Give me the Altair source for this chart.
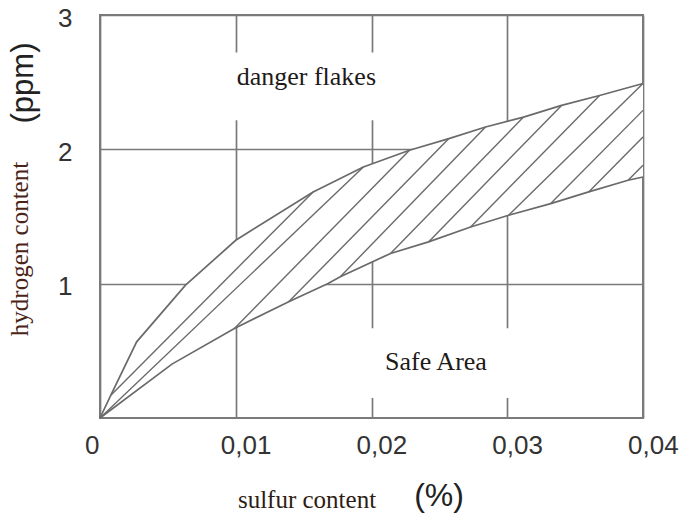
import altair as alt
import pandas as pd

# ---- data ----
x_ticks = [0, 0.01, 0.02, 0.03, 0.04]
x_labels = ["0", "0,01", "0,02", "0,03", "0,04"]
y_ticks = [1, 2, 3]

# upper boundary of the hatched band
upper_x = [0, 0.0008, 0.0027, 0.0063, 0.0100, 0.0157, 0.0194, 0.0228, 0.0257, 0.0284, 0.0312, 0.0340, 0.0368, 0.0400]
upper_y = [0, 0.17, 0.567, 0.989, 1.323, 1.683, 1.868, 1.993, 2.080, 2.166, 2.240, 2.327, 2.401, 2.49]
# lower boundary of the hatched band
lower_x = [0, 0.0053, 0.0099, 0.0139, 0.0168, 0.0177, 0.0214, 0.0242, 0.0273, 0.0301, 0.0332, 0.0360, 0.0389, 0.0400]
lower_y = [0, 0.401, 0.667, 0.865, 1.001, 1.051, 1.225, 1.311, 1.422, 1.509, 1.596, 1.683, 1.770, 1.794]

# hatch strokes (start on lower side, end on upper side)
hatch_x1 = [0.0008, 0, 0.0099, 0.0139, 0.0177, 0.0214, 0.0242, 0.0273, 0.0301, 0.0332, 0.0360, 0.0389]
hatch_y1 = [0.17, 0, 0.667, 0.865, 1.051, 1.225, 1.311, 1.422, 1.509, 1.596, 1.683, 1.770]
hatch_x2 = [0.0157, 0.0194, 0.0228, 0.0257, 0.0284, 0.0312, 0.0340, 0.0368, 0.0400, 0.0400, 0.0400, 0.0400]
hatch_y2 = [1.683, 1.868, 1.993, 2.080, 2.166, 2.240, 2.327, 2.401, 2.49, 2.290, 2.091, 1.881]

# in-plot annotations
ann_text = ["danger flakes", "Safe Area"]
ann_x = [0.0152, 0.02475]
ann_y = [2.476, 0.357]
box_x1 = [0.0095, 0.0190]
box_x2 = [0.0215, 0.0310]
box_y1 = [2.216, 0.149]
box_y2 = [2.721, 0.669]

GRAY = "#7a7a7a"
LINE = "#6a6a6a"

# ---- tables ----
n_up = len(upper_x)
band = pd.DataFrame({
    "x": upper_x + lower_x[::-1],
    "y": upper_y + lower_y[::-1],
    "i": list(range(n_up + len(lower_x))),
})
curves = pd.DataFrame({
    "x": upper_x + lower_x,
    "y": upper_y + lower_y,
    "curve": ["upper"] * n_up + ["lower"] * len(lower_x),
})
hatch = pd.DataFrame({"x": hatch_x1, "y": hatch_y1, "x2": hatch_x2, "y2": hatch_y2})
boxes = pd.DataFrame({"x": box_x1, "x2": box_x2, "y": box_y1, "y2": box_y2})
ann = pd.DataFrame({"x": ann_x, "y": ann_y, "t": ann_text})
xlab = pd.DataFrame({"x": x_ticks, "y": [0] * len(x_ticks), "t": x_labels})

xs = alt.Scale(domain=[0, 0.04], nice=False, zero=False)
ys = alt.Scale(domain=[0, 3], nice=False, zero=False)

x_axis = alt.Axis(
    values=x_ticks, labels=False,
    tickSize=0, domain=False, grid=True, gridColor=GRAY, gridWidth=1.7, title=None,
)
y_axis = alt.Axis(
    values=y_ticks,
    labelFont="Liberation Sans", labelFontSize=26, labelColor="#333333",
    labelPadding=28, labelFlush=False, labelOverlap=False, labelBaseline="middle",
    labelOffset=3,
    tickSize=0, domain=False, grid=True, gridColor=GRAY, gridWidth=1.7, title=None,
)

X = alt.X("x:Q", scale=xs, axis=x_axis)
Y = alt.Y("y:Q", scale=ys, axis=y_axis)

mask = alt.Chart(band).mark_line(fill="white", strokeOpacity=0).encode(
    x=X, y=Y, order=alt.Order("i:Q"),
)

hatch_layer = alt.Chart(hatch).mark_rule(color=LINE, strokeWidth=1.4).encode(
    x=X, y=Y, x2="x2:Q", y2="y2:Q",
)

curve_layer = alt.Chart(curves).mark_line(color=LINE, strokeWidth=1.7).encode(
    x=X, y=Y, detail="curve:N",
)

box_layer = alt.Chart(boxes).mark_rect(fill="white", strokeOpacity=0).encode(
    x=X, x2="x2:Q", y=Y, y2="y2:Q",
)

ann_layer = alt.Chart(ann).mark_text(
    font="Liberation Serif", fontSize=26, color="#1e1a18", align="center", baseline="alphabetic"
).encode(x=X, y=Y, text="t:N")

xlab_layer = alt.Chart(xlab).mark_text(
    font="Liberation Sans", fontSize=26, color="#333333", align="left", baseline="alphabetic",
    dx=-15, dy=36,
).encode(x=X, y=Y, text="t:N")

# axis titles (two fonts each, so drawn as text marks)
t_hyd = alt.Chart(pd.DataFrame({"t": ["hydrogen content"]})).mark_text(
    font="Liberation Serif", fontSize=25, color="#4a2418", angle=270, align="center", baseline="alphabetic"
).encode(x=alt.value(-72), y=alt.value(234), text="t:N")
t_ppm = alt.Chart(pd.DataFrame({"t": ["(ppm)"]})).mark_text(
    font="Liberation Sans", fontSize=31, color="#222222", angle=270, align="center", baseline="alphabetic"
).encode(x=alt.value(-67), y=alt.value(68), text="t:N")
t_sul = alt.Chart(pd.DataFrame({"t": ["sulfur content"]})).mark_text(
    font="Liberation Serif", fontSize=25, color="#2e1c12", align="center", baseline="alphabetic"
).encode(x=alt.value(207), y=alt.value(493), text="t:N")
t_pct = alt.Chart(pd.DataFrame({"t": ["(%)"]})).mark_text(
    font="Liberation Sans", fontSize=32, color="#222222", align="center", baseline="alphabetic"
).encode(x=alt.value(339), y=alt.value(491), text="t:N")

chart = alt.layer(
    mask, hatch_layer, curve_layer, box_layer, ann_layer, xlab_layer, t_hyd, t_ppm, t_sul, t_pct
).properties(
    width=543, height=403,
    autosize=alt.AutoSizeParams(type="none"),
    padding={"left": 92, "top": 7, "right": 36, "bottom": 97},
    background="white",
).configure_view(stroke=GRAY, strokeWidth=2)

chart.save("out.html", embed_options={"renderer": "svg", "actions": False})
